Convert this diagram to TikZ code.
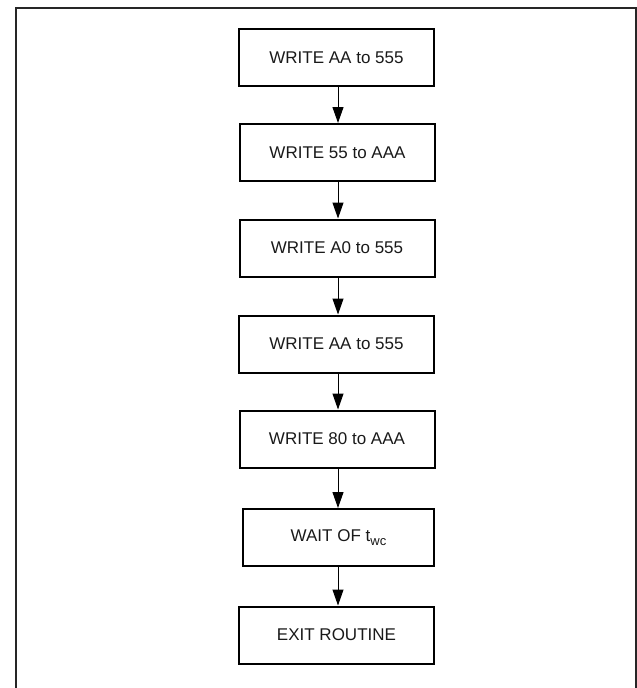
\documentclass[tikz,border=0pt]{standalone}
\usepackage{fontspec}
\setmainfont{Liberation Sans}
\usetikzlibrary{arrows.meta}
\tikzset{
  stepbox/.style={draw=black, line width=2pt, minimum width=195pt, minimum height=57pt,
    inner sep=0pt, font=\fontsize{17}{20}\selectfont, text=black!90},
  flow/.style={draw=black, line width=1pt, -{Triangle[length=16pt,width=11pt]}},
  frame/.style={draw=black!85, line width=1.6pt}
}
\begin{document}
\begin{tikzpicture}[x=1pt,y=1pt]
\useasboundingbox (0,0) rectangle (637,-688);
\draw[frame] (16,-700) -- (16,-8) -- (636,-8) -- (636,-700);
\node[stepbox] (s1) at (336.5,-57.5) {WRITE AA to 555};
\node[stepbox] (s2) at (337.5,-152.5) {WRITE 55 to AAA};
\node[stepbox] (s3) at (337,-248) {WRITE A0 to 555};
\node[stepbox] (s4) at (336.5,-344) {WRITE AA to 555};
\node[stepbox] (s5) at (337,-439) {WRITE 80 to AAA};
\node[stepbox, minimum width=191pt] (s6) at (338.5,-537.5) {WAIT OF t\raisebox{-0.5ex}{\fontsize{13}{13}\selectfont wc}};
\node[stepbox] (s7) at (336.5,-635) {EXIT ROUTINE};
\foreach \a/\b in {s1/s2,s2/s3,s3/s4,s4/s5,s5/s6,s6/s7}
  \draw[flow] (\a.south -| 338,0) -- (\b.north -| 338,0);
\end{tikzpicture}
\end{document}
